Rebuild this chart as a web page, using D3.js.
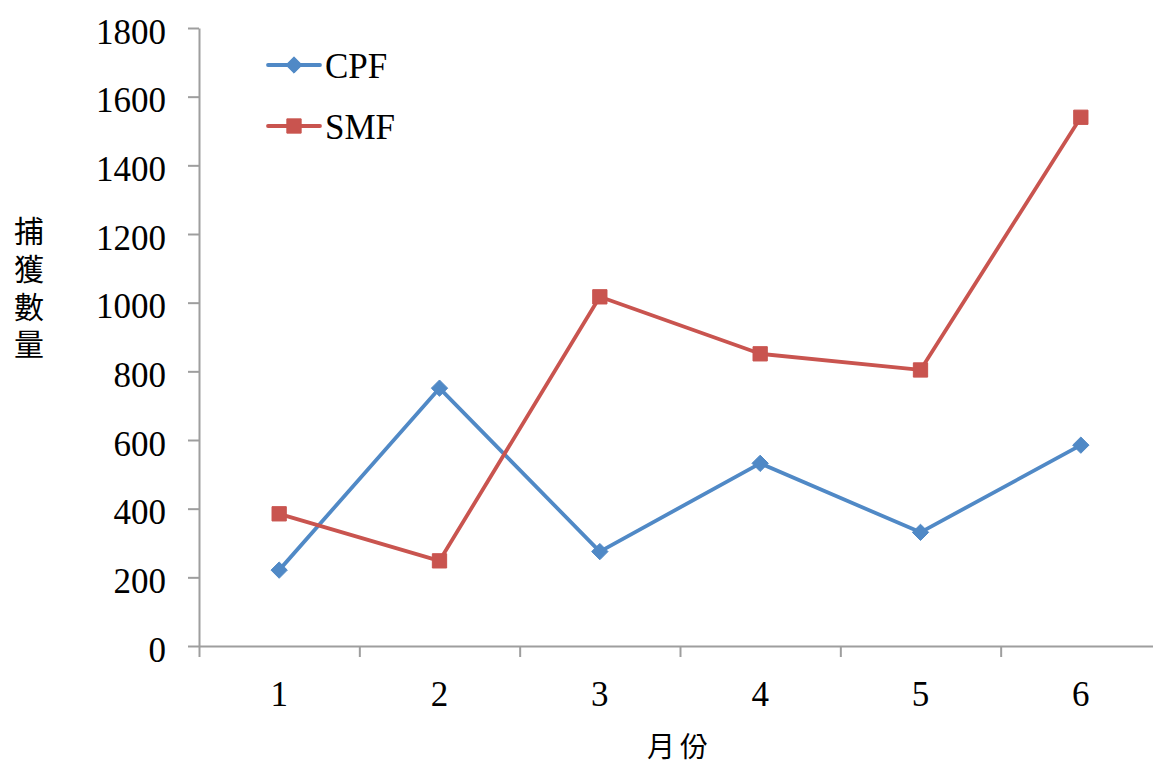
<!DOCTYPE html>
<html>
<head>
<meta charset="utf-8">
<script src="https://cdn.jsdelivr.net/npm/d3@7"></script>
<style>
  html, body { margin: 0; padding: 0; background: #fff; }
  svg { display: block; }
  .tick text { font-family: "Liberation Serif", "Times New Roman", serif; fill: #000; }
</style>
</head>
<body>
<svg id="chart" width="1153" height="766"></svg>
<script>
// Monthly catch counts for two trap types
const months = ["1", "2", "3", "4", "5", "6"];
const cpfValues = [221, 751, 275, 532, 331, 585];
const smfValues = [385, 248, 1017, 851, 804, 1540];
const yTicks = [0, 200, 400, 600, 800, 1000, 1200, 1400, 1600, 1800];
const seriesNames = ["CPF", "SMF"];
const yTitle = "捕獲數量";
const xTitle = "月份";

const series = [
  { name: seriesNames[0], values: cpfValues, color: "#5089C6", marker: "diamond" },
  { name: seriesNames[1], values: smfValues, color: "#C9544F", marker: "square" }
];

const svg = d3.select("#chart");
const plotLeft = 199, plotRight = 1161, plotTop = 28, plotBottom = 646;
const axisColor = "#9E9E9E";

const x = d3.scaleBand().domain(months).range([plotLeft, plotRight]).padding(0);
const xEdges = d3.scaleLinear().domain([0, months.length]).range([plotLeft, plotRight]);
const y = d3.scaleLinear().domain([0, 1800]).range([plotBottom, plotTop]);

// Y axis
const yAxis = svg.append("g")
  .attr("transform", `translate(${plotLeft},0)`)
  .call(d3.axisLeft(y).tickValues(yTicks).tickFormat(d3.format("d"))
    .tickSize(11).tickPadding(22).tickSizeOuter(0));
yAxis.select(".domain").attr("stroke", axisColor).attr("stroke-width", 2);
yAxis.selectAll(".tick line").attr("stroke", axisColor).attr("stroke-width", 2);
yAxis.selectAll(".tick text").attr("font-size", 35).attr("dy", "0.43em");

// X axis: tick marks at category boundaries
const xTickAxis = svg.append("g")
  .attr("transform", `translate(0,${plotBottom})`)
  .call(d3.axisBottom(xEdges).tickValues(d3.range(months.length + 1)).tickSize(11).tickFormat("").tickSizeOuter(0));
xTickAxis.select(".domain").attr("stroke", axisColor).attr("stroke-width", 2);
xTickAxis.selectAll(".tick line").attr("stroke", axisColor).attr("stroke-width", 2);

// X axis: labels at category centres
const xLabelAxis = svg.append("g")
  .attr("transform", `translate(0,${plotBottom})`)
  .call(d3.axisBottom(x).tickSize(0).tickPadding(35));
xLabelAxis.select(".domain").remove();
xLabelAxis.selectAll(".tick text").attr("font-size", 35);

// Axis titles
svg.append("text")
  .attr("x", 29)
  .attr("y", 216)
  .attr("writing-mode", "vertical-rl")
  .style("writing-mode", "vertical-rl")
  .attr("font-family", "'Noto Sans CJK TC', 'Noto Sans CJK SC', sans-serif")
  .attr("font-size", 30)
  .attr("letter-spacing", 7.7)
  .text(yTitle);

svg.append("text")
  .attr("x", (plotLeft + plotRight) / 2)
  .attr("y", 757)
  .attr("text-anchor", "middle")
  .attr("font-family", "'Noto Sans CJK TC', 'Noto Sans CJK SC', sans-serif")
  .attr("font-size", 28)
  .attr("letter-spacing", 5)
  .text(xTitle);

// Series lines and markers
const line = d3.line()
  .x((d, i) => x(months[i]) + x.bandwidth() / 2)
  .y(d => y(d));

const diamond = d3.symbol().type(d3.symbolDiamond2).size(170);
const square = d3.symbol().type(d3.symbolSquare2).size(260);

function drawMarker(g, kind, color) {
  g.append("path")
    .attr("d", kind === "diamond" ? diamond() : square())
    .attr("fill", color)
    .attr("stroke", color)
    .attr("stroke-width", 1);
}

series.forEach(s => {
  svg.append("path")
    .datum(s.values)
    .attr("d", line)
    .attr("fill", "none")
    .attr("stroke", s.color)
    .attr("stroke-width", 3.8)
    .attr("stroke-linejoin", "round");
  s.values.forEach((v, i) => {
    const g = svg.append("g")
      .attr("transform", `translate(${x(months[i]) + x.bandwidth() / 2},${y(v)})`);
    drawMarker(g, s.marker, s.color);
  });
});

// Legend
const legend = svg.append("g");
series.forEach((s, i) => {
  const ly = 65 + i * 61;
  legend.append("line")
    .attr("x1", 268).attr("x2", 320)
    .attr("y1", ly).attr("y2", ly)
    .attr("stroke", s.color).attr("stroke-width", 3.8).attr("stroke-linecap", "round");
  const g = legend.append("g").attr("transform", `translate(294,${ly})`);
  drawMarker(g, s.marker, s.color);
  legend.append("text")
    .attr("x", 325).attr("y", ly)
    .attr("dy", "0.36em")
    .attr("font-family", "'Liberation Serif', 'Times New Roman', serif")
    .attr("font-size", 35)
    .attr("fill", "#000")
    .text(s.name);
});
</script>
</body>
</html>
